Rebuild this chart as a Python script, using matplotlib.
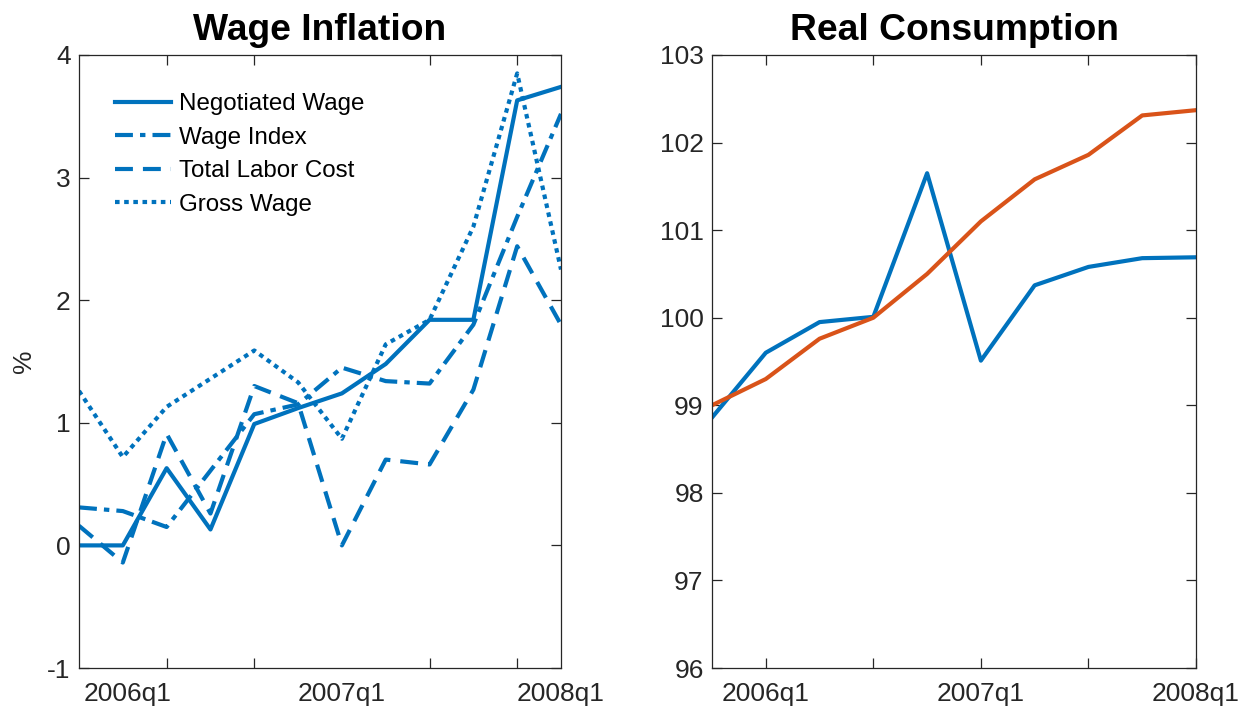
import numpy as np
import matplotlib.pyplot as plt

plt.rcParams['font.family'] = ['Liberation Sans', 'DejaVu Sans']
plt.rcParams['axes.unicode_minus'] = False

# wage inflation, quarterly, 2005q3 .. 2008q2
negotiated = [0.0, 0.0, 0.63, 0.13, 0.99, 1.12, 1.24, 1.48, 1.84, 1.84, 3.63, 3.74]
wage_index = [0.31, 0.28, 0.15, 0.61, 1.07, 1.15, 1.45, 1.34, 1.32, 1.80, 2.68, 3.52]
labor_cost = [0.16, -0.14, 0.91, 0.26, 1.30, 1.16, 0.0, 0.70, 0.66, 1.27, 2.44, 1.80]
gross_wage = [1.26, 0.72, 1.13, 1.36, 1.59, 1.33, 0.87, 1.64, 1.84, 2.60, 3.85, 2.25]

# real consumption, quarterly, 2005q4 .. 2008q1
cons_a = [98.86, 99.60, 99.95, 100.01, 101.65, 99.51, 100.37, 100.58, 100.68, 100.69]
cons_b = [99.0, 99.30, 99.76, 100.0, 100.50, 101.10, 101.58, 101.86, 102.31, 102.37]

xlabels = ['2006q1', '2007q1', '2008q1']

blue = '#0072BD'
orange = '#D95319'
axcol = '#262626'
lw = 3.0

fig = plt.figure(figsize=(12.55, 7.17), dpi=100)
ax1 = fig.add_axes([79/1255, 49/717, 482/1255, 613/717])
ax2 = fig.add_axes([712/1255, 49/717, 484/1255, 613/717])

xw = np.arange(len(negotiated))
ax1.plot(xw, negotiated, color=blue, lw=lw, label='Negotiated Wage')
ax1.plot(xw, wage_index, color=blue, lw=lw, dashes=(4.3, 1.7, 1.3, 1.7), label='Wage Index')
ax1.plot(xw, labor_cost, color=blue, lw=lw, dashes=(4.3, 2.4), label='Total Labor Cost')
ax1.plot(xw, gross_wage, color=blue, lw=lw, dashes=(1.1, 1.1), label='Gross Wage')
ax1.set_xlim(0, 11)
ax1.set_ylim(-1, 4)
ax1.set_yticks(range(-1, 5))
ax1.set_xticks([1.1, 6, 11])
ax1.set_xticklabels(xlabels)
ax1.set_xticks([2, 4, 6, 8, 10], minor=True)
ax1.set_ylabel('%', fontsize=19, color=axcol, labelpad=8)
ax1.set_title('Wage Inflation', fontsize=26.8, fontweight='bold', pad=11)
leg = ax1.legend(loc='upper left', bbox_to_anchor=(0.075, 0.938), frameon=False,
                 fontsize=17.4, handlelength=2.3, handletextpad=0.33,
                 labelspacing=0.48, borderpad=0, borderaxespad=0)

xc = np.arange(len(cons_a))
ax2.plot(xc, cons_a, color=blue, lw=lw)
ax2.plot(xc, cons_b, color=orange, lw=lw)
ax2.set_xlim(0, 9)
ax2.set_ylim(96, 103)
ax2.set_yticks(range(96, 104))
ax2.set_xticks([1, 5, 9])
ax2.set_xticklabels(xlabels)
ax2.set_xticks([3, 7], minor=True)
ax2.set_title('Real Consumption', fontsize=26.8, fontweight='bold', pad=11)

for ax in (ax1, ax2):
    for s in ax.spines.values():
        s.set_color(axcol)
        s.set_linewidth(0.9)
    ax.tick_params(which='both', direction='in', top=True, right=True,
                   length=7, width=0.9, color=axcol, labelcolor=axcol,
                   labelsize=19, pad=10)
    ax.tick_params(axis='y', pad=6)
ax1.tick_params(axis='x', which='major', length=0)
ax2.tick_params(axis='x', which='major', length=7)

fig.savefig('out.png', dpi=100)
